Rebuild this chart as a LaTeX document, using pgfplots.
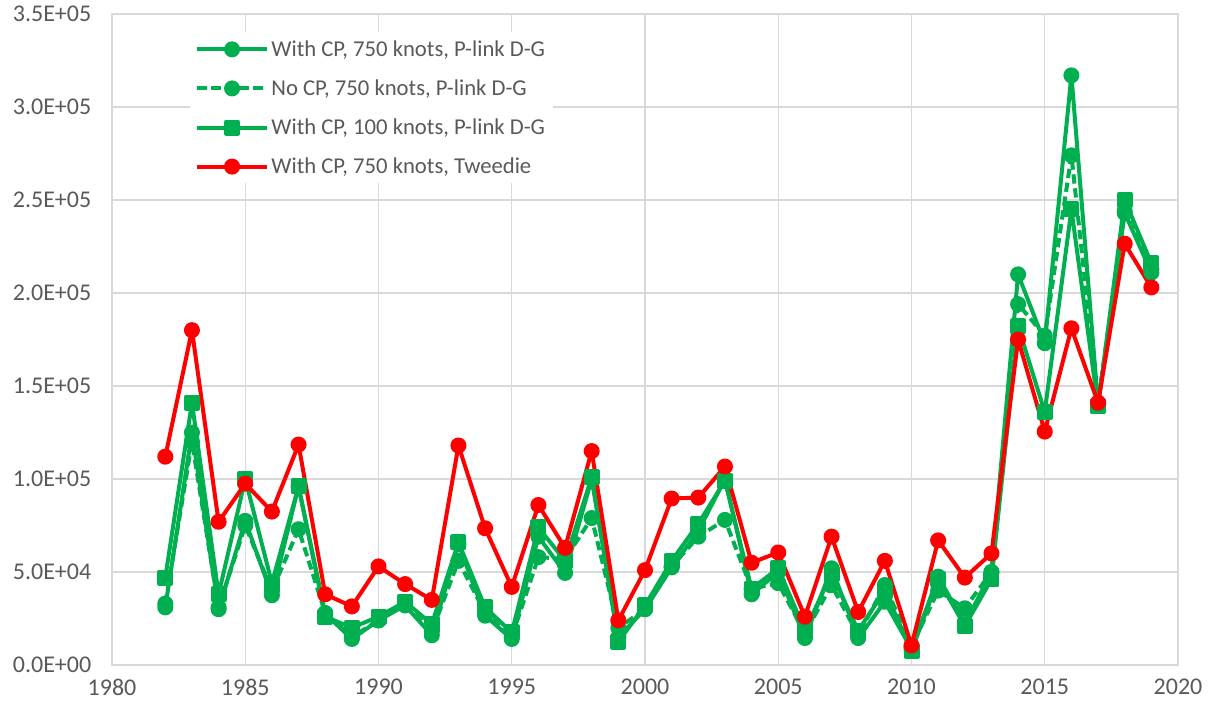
\documentclass[border=0pt]{standalone}
\usepackage{pgfplots}
\pgfplotsset{compat=1.18}
\usepackage{pgfplotstable}
\usepackage{fontspec}
\setmainfont{Carlito}

\definecolor{xlgreen}{HTML}{00B050}
\definecolor{xlred}{HTML}{FF0000}
\definecolor{xlgrid}{HTML}{D9D9D9}
\definecolor{xltext}{HTML}{595959}

% year, with CP 750 (P-link), no CP 750 (P-link), with CP 100 (P-link), with CP 750 (Tweedie)
\pgfplotstableread{
year cpA   nocp   cpB    tw
1982 31000  33000  47000  112000
1983 125000 120000 141000 180000
1984 30000  31000  38000  77000
1985 77500  75000  100000 97500
1986 37500  40000  44000  82500
1987 96000  73000  96000  118500
1988 27500  28000  26000  38000
1989 14000  15000  20000  31500
1990 24000  24000  26000  53000
1991 32000  33000  34000  43500
1992 16000  18000  22000  35000
1993 65000  56000  66000  118000
1994 26500  28000  31000  73500
1995 14000  15000  17500  42000
1996 69000  58000  74000  86000
1997 49500  57000  56000  63000
1998 100000 79000  101000 115000
1999 15000  20000  12500  24000
2000 30000  30000  32000  51000
2001 52500  53000  56000  89500
2002 72000  69000  76000  90000
2003 100000 78000  99000  106700
2004 38000  41000  41000  55000
2005 50000  44000  52000  60500
2006 14500  17000  18500  26000
2007 52000  43000  49000  69000
2008 14500  16000  18500  28500
2009 34000  43000  40000  56000
2010 8500   10000  7500   10500
2011 47500  40000  46000  67000
2012 22000  30500  21000  47000
2013 50000  50000  46000  60000
2014 210000 194000 182000 175000
2015 173000 177000 136000 125500
2016 317000 274000 245000 181000
2017 140000 141000 139000 141000
2018 243000 244000 250000 226500
2019 211000 213000 216000 203000
}\mydata

\begin{document}
\begin{tikzpicture}
\begin{axis}[
  scale only axis,
  width=799.5pt, height=488.25pt,
  xmin=1980, xmax=2020, ymin=0, ymax=350000,
  xtick={1980,1985,...,2020},
  xticklabels={1980,1985,1990,1995,2000,2005,2010,2015,2020},
  ytick={0,50000,...,350000},
  yticklabels={0.0E+00,5.0E+04,1.0E+05,1.5E+05,2.0E+05,2.5E+05,3.0E+05,3.5E+05},
  scaled y ticks=false,
  grid=major,
  major grid style={xlgrid, line width=0.9pt},
  axis line style={xlgrid, line width=0.9pt},
  tick style={draw=none},
  ticklabel style={font=\fontsize{18}{21}\selectfont, text=xltext},
  yticklabel style={xshift=-12pt},
  xticklabel style={yshift=-7pt},
  legend cell align=left,
  legend style={draw=none, fill=white, at={(0.073,0.972)}, anchor=north west,
    font=\fontsize{17}{20}\selectfont, text=xltext, row sep=12pt, inner sep=4pt},
  legend image code/.code={
    \draw[mark repeat=2,mark phase=2] plot coordinates {(0pt,0pt) (26pt,0pt) (52pt,0pt)};
  },
  every axis plot/.append style={line width=3pt, line join=round},
]
\addplot[xlgreen, mark=*, mark size=4.5pt, mark options={solid}] table[x=year,y=cpA] {\mydata};
\addlegendentry{With CP, 750 knots, P-link D-G}
\addplot[xlgreen, dash pattern=on 7pt off 3.5pt, mark=*, mark size=4.5pt, mark options={solid}] table[x=year,y=nocp] {\mydata};
\addlegendentry{No CP, 750 knots, P-link D-G}
\addplot[xlgreen, mark=square*, mark size=4.5pt, mark options={solid}] table[x=year,y=cpB] {\mydata};
\addlegendentry{With CP, 100 knots, P-link D-G}
\addplot[xlred, mark=*, mark size=4.5pt, mark options={solid}] table[x=year,y=tw] {\mydata};
\addlegendentry{With CP, 750 knots, Tweedie}
\end{axis}
\pgfresetboundingbox
\path[use as bounding box] ([xshift=-84pt,yshift=-36pt]current axis.south west) rectangle ([xshift=26.25pt,yshift=10.5pt]current axis.north east);
\end{tikzpicture}
\end{document}
